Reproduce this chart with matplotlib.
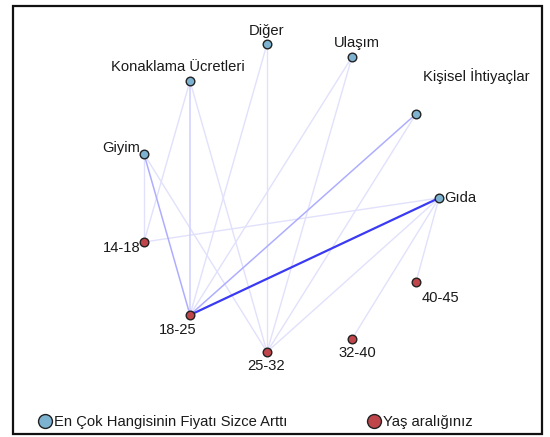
import matplotlib
matplotlib.use('Agg')
import matplotlib.pyplot as plt
from matplotlib.lines import Line2D
from matplotlib.patches import Rectangle

plt.rcParams['font.family'] = ['Liberation Sans', 'DejaVu Sans']

# ---- data: network layout (node positions from the layout) ----
category_nodes = ['Diğer', 'Ulaşım', 'Konaklama Ücretleri', 'Kişisel İhtiyaçlar', 'Giyim', 'Gıda']
category_x = [267, 352, 190, 416, 144, 439]
category_y = [44, 57, 81, 114, 154, 198]

age_nodes = ['14-18', '18-25', '25-32', '32-40', '40-45']
age_x = [144, 190, 267, 352, 416]
age_y = [242, 315, 352, 339, 282]

# edges: (age, category, strength 1=weak, 2=medium, 3=strong)
edge_age = ['18-25', '18-25', '18-25', '18-25', '18-25', '18-25',
            '14-18', '14-18', '14-18',
            '25-32', '25-32', '25-32', '25-32', '25-32', '25-32',
            '32-40', '40-45']
edge_cat = ['Gıda', 'Kişisel İhtiyaçlar', 'Giyim', 'Konaklama Ücretleri', 'Diğer', 'Ulaşım',
            'Gıda', 'Konaklama Ücretleri', 'Giyim',
            'Giyim', 'Konaklama Ücretleri', 'Diğer', 'Ulaşım', 'Kişisel İhtiyaçlar', 'Gıda',
            'Gıda', 'Gıda']
edge_strength = [3, 2, 2, 1.5, 1, 1,
                 1, 1, 1,
                 1, 1, 1, 1, 1, 1,
                 1, 1]

legend_labels = ['En Çok Hangisinin Fiyatı Sizce Arttı', 'Yaş aralığınız']

# ---- styles ----
blue_fill = '#7db3d1'
red_fill = '#c0454a'
node_edge = '#222222'
text_color = '#1a1a1a'
edge_styles = {1: ('#e1e1fc', 1.0), 1.5: ('#d0d0ff', 1.1), 2: ('#aeaeff', 1.1), 3: ('#3a3af5', 1.6)}

label_style = {
    'Diğer': (0, 13, 'center'),
    'Ulaşım': (5, 14, 'center'),
    'Konaklama Ücretleri': (-12, 14, 'center'),
    'Kişisel İhtiyaçlar': (60, 38, 'center'),
    'Giyim': (-4, 6, 'right'),
    'Gıda': (5, 0, 'left'),
    '14-18': (-4, -6, 'right'),
    '18-25': (-12, -15, 'center'),
    '25-32': (-1, -14, 'center'),
    '32-40': (5, -14, 'center'),
    '40-45': (24, -16, 'center'),
}

pos = {}
for n, x, y in zip(category_nodes, category_x, category_y):
    pos[n] = (x, y)
for n, x, y in zip(age_nodes, age_x, age_y):
    pos[n] = (x, y)

fig = plt.figure(figsize=(5.5, 4.37), dpi=100)
ax = fig.add_axes([0, 0, 1, 1])
ax.set_xlim(0, 550)
ax.set_ylim(437, 0)
ax.axis('off')

# border
ax.add_patch(Rectangle((13 / 550, 1 - 434 / 437), 529 / 550, 428 / 437, transform=ax.transAxes,
                       fill=False, edgecolor='#111111', linewidth=1.6, zorder=0))

order = sorted(range(len(edge_strength)), key=lambda i: edge_strength[i])
for i in order:
    a, c, s = edge_age[i], edge_cat[i], edge_strength[i]
    col, lw = edge_styles[s]
    ax.plot([pos[a][0], pos[c][0]], [pos[a][1], pos[c][1]], color=col, lw=lw, zorder=1,
            solid_capstyle='round')

ax.plot(category_x, category_y, 'o', ms=6.2, mfc=blue_fill, mec=node_edge, mew=1.0, zorder=3, ls='none')
ax.plot(age_x, age_y, 'o', ms=6.2, mfc=red_fill, mec=node_edge, mew=1.0, zorder=3, ls='none')

for n, (x, y) in pos.items():
    dx, dy, ha = label_style[n]
    ax.annotate(n, (x, y), xytext=(dx, dy), textcoords='offset pixels', ha=ha, va='center',
                fontsize=10.6, color=text_color, zorder=4)

handles = [Line2D([], [], marker='o', ls='none', ms=10, mfc=blue_fill, mec=node_edge, mew=1.0),
           Line2D([], [], marker='o', ls='none', ms=10, mfc=red_fill, mec=node_edge, mew=1.0)]
leg = ax.legend(handles, legend_labels, ncol=2, loc='center left',
                bbox_to_anchor=(39 / 550, 1 - 422 / 437), frameon=False, fontsize=10.6,
                handlelength=0.8, handletextpad=0.2, columnspacing=5.5, borderaxespad=0,
                borderpad=0)
for t in leg.get_texts():
    t.set_color(text_color)

fig.savefig('out.png', dpi=100)
